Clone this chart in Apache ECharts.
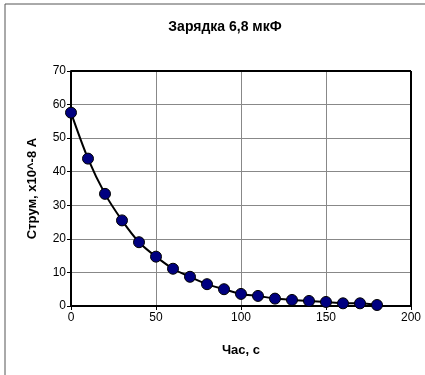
<!DOCTYPE html>
<html><head><meta charset="utf-8">
<script src="https://cdn.jsdelivr.net/npm/echarts@6/dist/echarts.min.js"></script>
<style>html,body{margin:0;padding:0;background:#fff;}#c{width:425px;height:375px;}</style>
</head><body><div id="c"></div>
<script>
var timeSec = [0,10,20,30,40,50,60,70,80,90,100,110,120,130,140,150,160,170,180];
var current = [57.6,43.9,33.4,25.5,19.0,14.7,11.1,8.7,6.5,5.0,3.6,3.0,2.2,1.8,1.5,1.2,0.8,0.8,0.3];
var titleText = 'Зарядка 6,8 мкФ';
var xName = 'Час, с';
var yName = 'Струм, x10^-8 A';

var chart = echarts.init(document.getElementById('c'));
var font = 'Liberation Sans, Arial, sans-serif';
chart.setOption({
  animation: false,
  backgroundColor: '#fff',
  title: {text: titleText, left: 220, textAlign: 'center', top: 15, textStyle: {fontFamily: font, fontSize: 14, fontWeight: 'bold', color: '#000'}},
  graphic: [{type: 'rect', shape: {x: 5, y: 4, width: 440, height: 390}, style: {fill: 'none', stroke: '#555', lineWidth: 1}, z: -1}],
  grid: {left: 71, right: 14, top: 71, bottom: 69},
  xAxis: {
    type: 'value', min: 0, max: 200, interval: 50,
    name: xName, nameLocation: 'middle', nameGap: 38,
    nameTextStyle: {fontFamily: font, fontSize: 13, fontWeight: 'bold', color: '#000'},
    axisLine: {show: true, onZero: false, lineStyle: {color: '#000', width: 2}},
    axisTick: {show: true, length: 4, lineStyle: {color: '#000'}},
    axisLabel: {fontFamily: font, fontSize: 12, color: '#000', margin: 6},
    splitLine: {show: true, lineStyle: {color: '#888', width: 1}}
  },
  yAxis: {
    type: 'value', min: 0, max: 70, interval: 10,
    name: yName, nameLocation: 'middle', nameGap: 32, nameRotate: 90,
    nameTextStyle: {fontFamily: font, fontSize: 13, fontWeight: 'bold', color: '#000'},
    axisLine: {show: true, lineStyle: {color: '#000', width: 2}},
    axisTick: {show: true, length: 4, lineStyle: {color: '#000'}},
    axisLabel: {fontFamily: font, fontSize: 12, color: '#000', margin: 5},
    splitLine: {show: true, lineStyle: {color: '#888', width: 1}}
  },
  series: [
    {type: 'line', data: [[200,0],[200,70]], symbol: 'none', lineStyle: {color: '#000', width: 2}, silent: true, z: 1},
    {type: 'line', data: [[0,70],[200,70]], symbol: 'none', lineStyle: {color: '#000', width: 2}, silent: true, z: 1},
    {
      type: 'line', smooth: 0.3,
      data: timeSec.map(function(t, i){ return [t, current[i]]; }),
      symbol: 'circle', symbolSize: 11,
      itemStyle: {color: '#000080', borderColor: '#000', borderWidth: 1},
      lineStyle: {color: '#000', width: 2}, z: 3
    }
  ]
});
</script></body></html>
